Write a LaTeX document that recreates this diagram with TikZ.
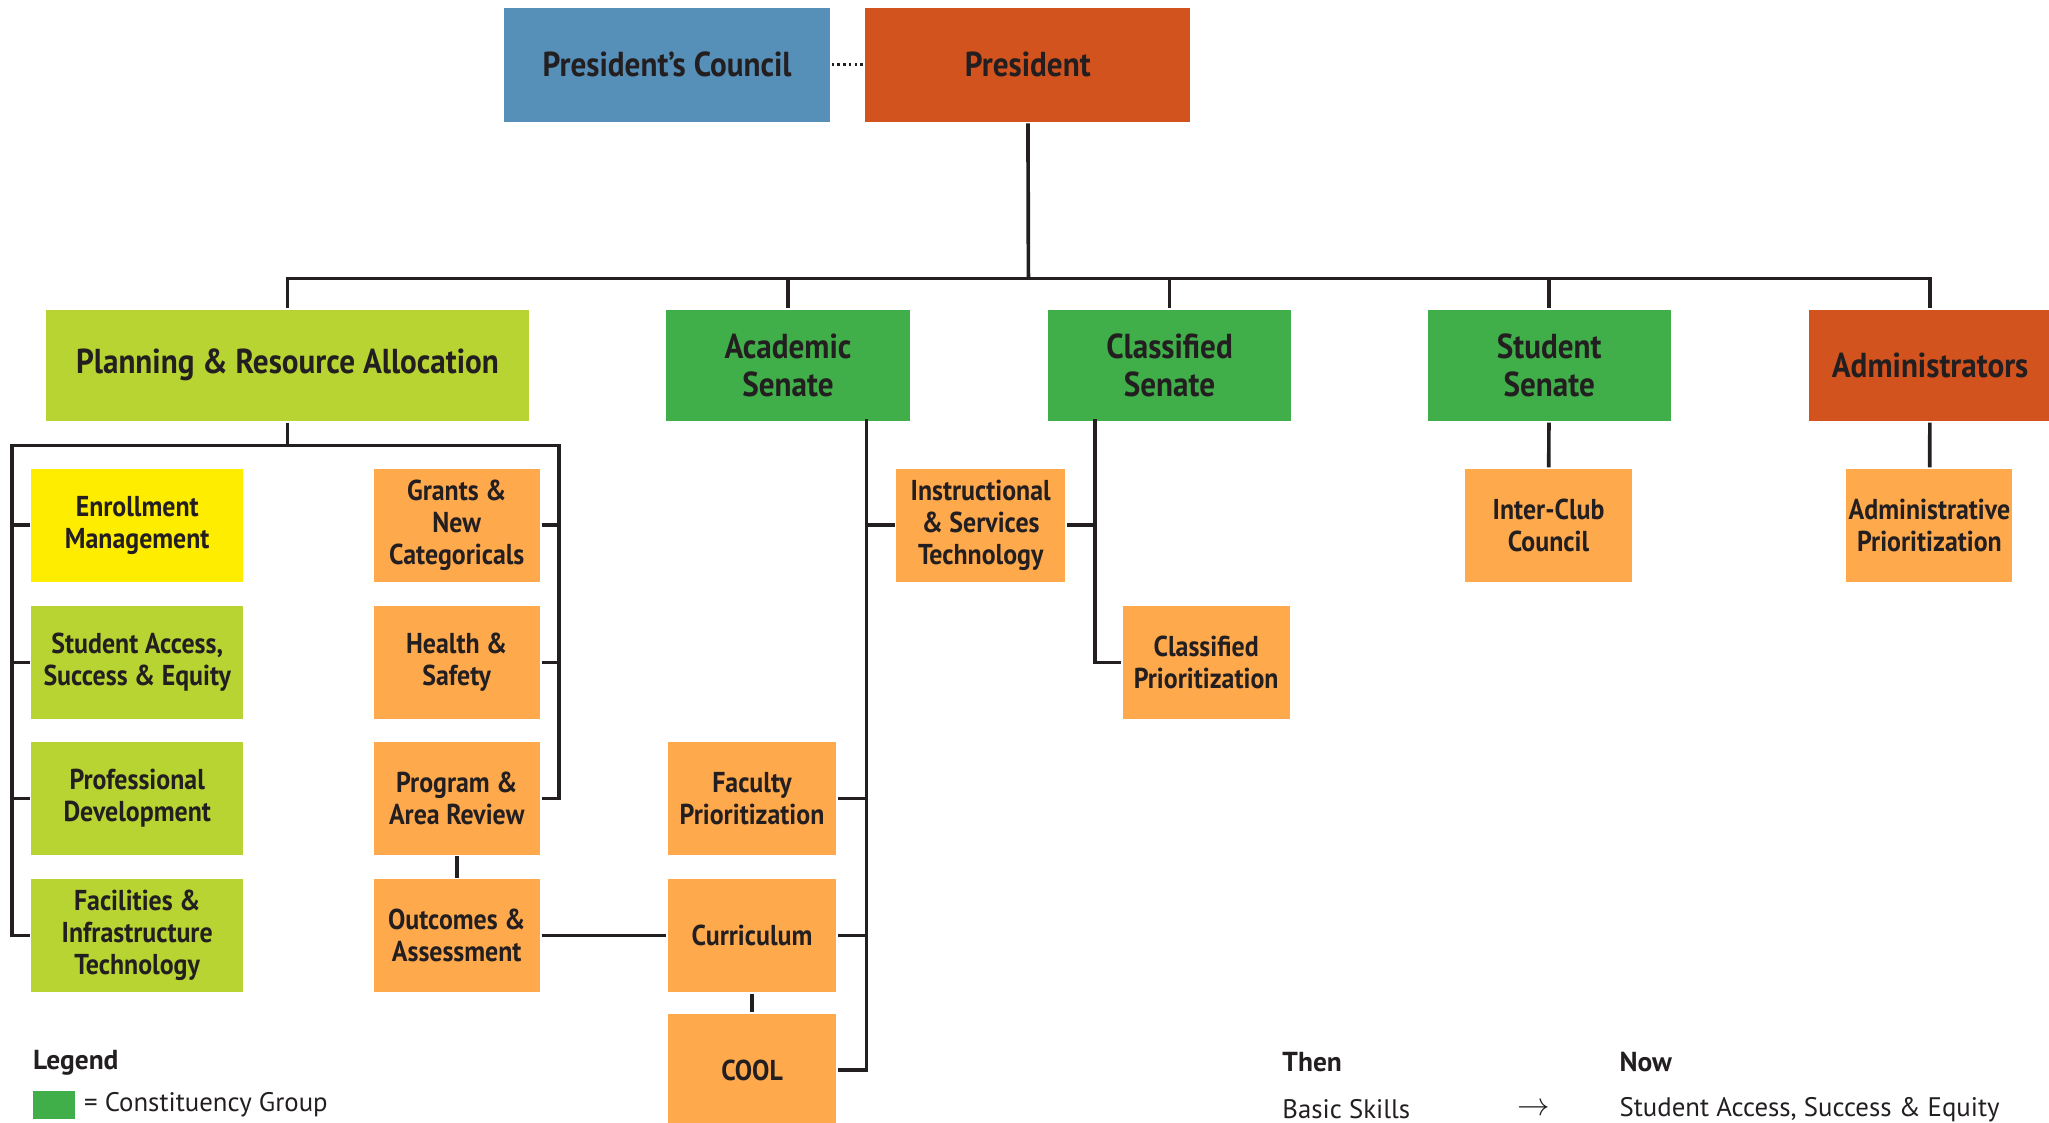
\documentclass[tikz,border=0pt]{standalone}
\usepackage{fontspec}
\setmainfont{PT Sans}
\newfontfamily\boxfont[FakeStretch=0.9]{PT Sans}
\definecolor{councilblue}{HTML}{568FB8}
\definecolor{presred}{HTML}{D2531E}
\definecolor{groupgreen}{HTML}{40AE49}
\definecolor{planlime}{HTML}{B8D432}
\definecolor{enrollyellow}{HTML}{FFED00}
\definecolor{unitorange}{HTML}{FFA94D}
\definecolor{ink}{HTML}{231F20}

\begin{document}
\begin{tikzpicture}[x=1pt, y=-1pt, color=ink, line width=2.8pt, line join=miter,
	box/.style={inner sep=0pt, align=center, font=\boxfont\bfseries\fontsize{26.5}{29}\selectfont},
	head/.style={box, minimum width=249pt, minimum height=87pt},
	group/.style={box, minimum width=186pt, minimum height=85pt},
	unit/.style={box, fill=unitorange, minimum width=128pt, minimum height=86pt,
		font=\boxfont\bfseries\fontsize{22}{24.5}\selectfont},
	lane/.style={unit, minimum width=162pt, fill=planlime},
	note/.style={anchor=west, inner sep=0pt, font=\fontsize{20.5}{24}\selectfont}]
	\useasboundingbox (0,0) rectangle (1568,859);

	% top
	\node[head, fill=councilblue] (council) at (510.5,49.5) {President’s Council};
	\node[head, fill=presred] (pres) at (786.5,49.5) {President};

	% groups
	\node[group, fill=planlime, minimum width=370pt] (plan) at (220,279.5) {Planning \& Resource Allocation};
	\node[group, fill=groupgreen] (acad) at (603,279.5) {Academic\\Senate};
	\node[group, fill=groupgreen] (class) at (895,279.5) {Classified\\Senate};
	\node[group, fill=groupgreen] (stud) at (1185.5,279.5) {Student\\Senate};
	\node[group, fill=presred] (admin) at (1477,279.5) {Administrators};

	% planning committees
	\node[lane, fill=enrollyellow] (enroll) at (105,402) {Enrollment\\Management};
	\node[lane] (access) at (105,507) {Student Access,\\Success \& Equity};
	\node[lane] (profdev) at (105,611) {Professional\\Development};
	\node[lane] (facil) at (105,716) {Facilities \&\\Infrastructure\\Technology};
	\node[unit, minimum width=127pt] (grants) at (349.5,402) {Grants \&\\New\\Categoricals};
	\node[unit, minimum width=127pt] (health) at (349.5,507) {Health \&\\Safety};
	\node[unit, minimum width=127pt] (review) at (349.5,611) {Program \&\\Area Review};
	\node[unit, minimum width=127pt] (outcome) at (349.5,716) {Outcomes \&\\Assessment};

	% senate committees
	\node[unit, minimum width=129pt] (faculty) at (575.5,611) {Faculty\\Prioritization};
	\node[unit, minimum width=129pt] (curric) at (575.5,716) {Curriculum};
	\node[unit, minimum width=129pt] (cool) at (575.5,819) {COOL};
	\node[unit, minimum width=129pt] (instr) at (750.5,402) {Instructional\\\& Services\\Technology};
	\node[unit] (cprio) at (923,507) {Classified\\Prioritization};
	\node[unit] (club) at (1185,402) {Inter-Club\\Council};
	\node[unit, minimum width=127pt] (aprio) at (1476.5,402) {Administrative\\Prioritization};

	% legend
	\node[note, font=\bfseries\fontsize{21}{24}\selectfont] (legend) at (24,813) {Legend};
	\node[fill=groupgreen, minimum width=32pt, minimum height=21pt, inner sep=0pt, anchor=west] (key) at (24,845.5) {};
	\node[note] (keytext) at (63,845) {= Constituency Group};
	\node[note, font=\bfseries\fontsize{21}{24}\selectfont] (then) at (980,813) {Then};
	\node[note, font=\bfseries\fontsize{21}{24}\selectfont] (now) at (1238,813) {Now};
	\node[note] (old) at (980,849) {Basic Skills};
	\node[note, font=\fontsize{28}{24}\selectfont] (becomes) at (1160,849) {$\rightarrow$};
	\node[note] (new) at (1238,849) {Student Access, Success \& Equity};

	% connectors
	\coordinate (bus) at (787,213);
	\coordinate (planbus) at (220,341);
	\coordinate (pl) at (9,341);
	\coordinate (pr) at (428,341);
	\coordinate (av) at (663,321);
	\coordinate (cv) at (838,321);

	\draw[line width=2pt, dash pattern=on 2pt off 2.4pt] (council) -- (pres);
	\draw (pres) -- (bus);
	\draw (plan.north) |- (bus) -| (admin.north);
	\foreach \g in {acad,class,stud}
		\draw (\g.north) -- (\g.north |- bus);

	\draw (plan) -- (planbus);
	\draw (facil.west) -| (pl) -- (pr) |- (review.east);
	\foreach \n in {enroll,access,profdev}
		\draw (\n.west) -- (\n.west -| pl);
	\foreach \n in {grants,health}
		\draw (\n.east) -- (\n.east -| pr);
	\draw (review) -- (outcome);
	\draw (outcome) -- (curric);
	\draw (curric) -- (cool);

	\draw (cool.east) -| (av);
	\foreach \n in {faculty,curric}
		\draw (\n.east) -- (\n.east -| av);
	\draw (instr.west) -- (instr.west -| av);
	\draw (cprio.west) -| (cv);
	\draw (instr.east) -- (instr.east -| cv);
	\draw (stud) -- (club);
	\draw (admin) -- (aprio);
\end{tikzpicture}
\end{document}
